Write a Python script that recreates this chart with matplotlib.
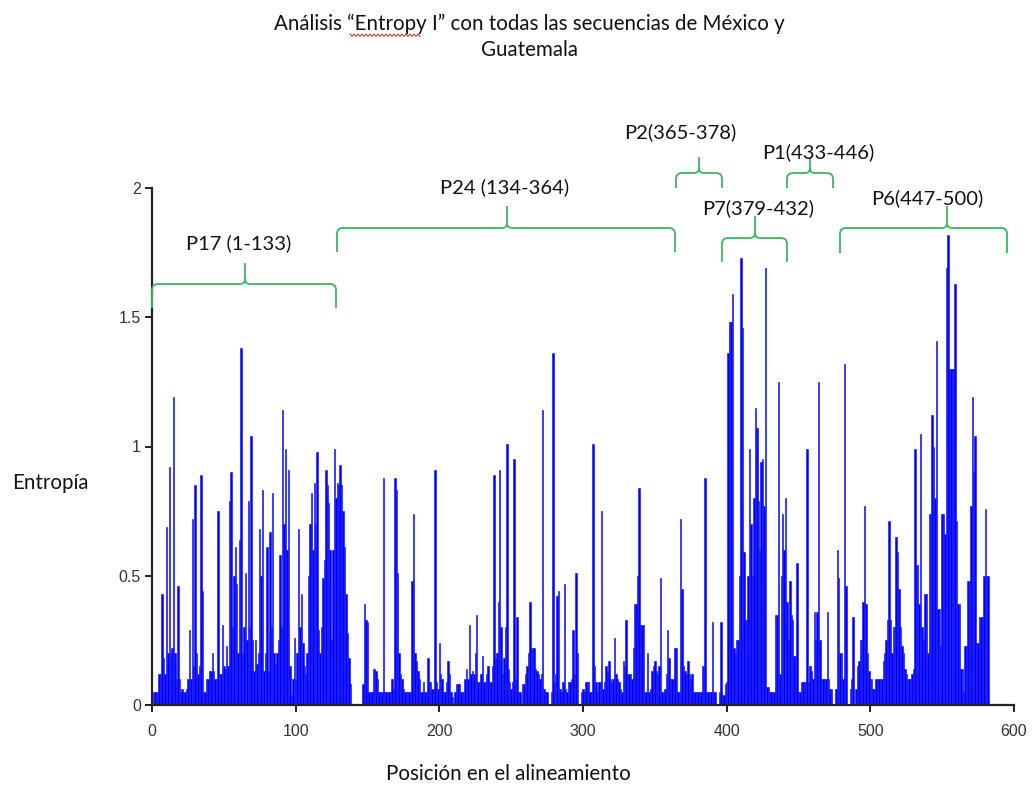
import numpy as np
import matplotlib
matplotlib.use("Agg")
import matplotlib.pyplot as plt
from matplotlib.path import Path
from matplotlib.patches import PathPatch

# ---------------- data ----------------
entropy = [
    0.05, 0.05, 0.05, 0.05, 0.12, 0.12, 0.43, 0.18, 0.12, 0.69,
    0.20, 0.92, 0.20, 0.22, 1.19, 0.20, 0.10, 0.46, 0.10, 0.05,
    0.06, 0.05, 0.05, 0.06, 0.10, 0.29, 0.10, 0.72, 0.15, 0.85,
    0.20, 0.12, 0.15, 0.89, 0.44, 0.05, 0.05, 0.10, 0.10, 0.13,
    0.13, 0.20, 0.13, 0.10, 0.10, 0.75, 0.12, 0.12, 0.31, 0.15,
    0.14, 0.23, 0.15, 0.79, 0.90, 0.30, 0.50, 0.61, 0.47, 0.20,
    0.64, 1.38, 0.20, 0.30, 0.51, 0.25, 0.79, 0.30, 1.04, 0.25,
    0.13, 0.25, 0.16, 0.20, 0.68, 0.50, 0.83, 0.13, 0.20, 0.61,
    0.13, 0.67, 0.30, 0.82, 0.20, 0.16, 0.20, 0.25, 0.58, 0.30,
    1.14, 0.70, 0.99, 0.60, 0.91, 0.15, 0.04, 0.10, 0.26, 0.10,
    0.20, 0.68, 0.30, 0.43, 0.24, 0.15, 0.12, 0.20, 0.50, 0.70,
    0.82, 0.60, 0.86, 0.70, 0.98, 0.29, 0.20, 0.30, 0.49, 0.56,
    0.91, 0.85, 0.78, 0.60, 0.25, 0.60, 0.99, 0.80, 0.86, 0.85,
    0.93, 0.85, 0.75, 0.61, 0.43, 0.28, 0.18, 0.08, 0.00, 0.00,
    0.00, 0.00, 0.00, 0.00, 0.00, 0.00, 0.08, 0.39, 0.33, 0.32,
    0.05, 0.05, 0.05, 0.14, 0.14, 0.13, 0.10, 0.05, 0.05, 0.05,
    0.88, 0.05, 0.05, 0.05, 0.05, 0.05, 0.10, 0.06, 0.88, 0.83,
    0.51, 0.20, 0.12, 0.10, 0.06, 0.05, 0.05, 0.05, 0.05, 0.05,
    0.48, 0.74, 0.20, 0.17, 0.13, 0.10, 0.05, 0.05, 0.09, 0.05,
    0.05, 0.18, 0.09, 0.09, 0.06, 0.06, 0.91, 0.09, 0.06, 0.24,
    0.12, 0.10, 0.05, 0.05, 0.09, 0.17, 0.12, 0.05, 0.03, 0.00,
    0.05, 0.08, 0.08, 0.08, 0.05, 0.05, 0.05, 0.10, 0.14, 0.10,
    0.31, 0.12, 0.13, 0.12, 0.20, 0.35, 0.09, 0.09, 0.12, 0.19,
    0.09, 0.09, 0.12, 0.15, 0.09, 0.09, 0.15, 0.89, 0.18, 0.20,
    0.40, 0.91, 0.30, 0.12, 0.18, 0.30, 1.01, 0.14, 0.09, 0.06,
    0.09, 0.95, 0.10, 0.34, 0.05, 0.05, 0.00, 0.08, 0.08, 0.12,
    0.15, 0.20, 0.40, 0.22, 0.22, 0.22, 0.14, 0.13, 0.12, 0.10,
    0.12, 1.14, 0.06, 0.05, 0.05, 0.00, 0.00, 0.05, 1.36, 0.09,
    0.12, 0.42, 0.44, 0.06, 0.05, 0.09, 0.47, 0.06, 0.05, 0.09,
    0.09, 0.10, 0.29, 0.12, 0.51, 0.20, 0.00, 0.00, 0.05, 0.06,
    0.05, 0.09, 0.09, 0.09, 0.05, 0.05, 1.01, 0.15, 0.09, 0.05,
    0.09, 0.09, 0.75, 0.06, 0.09, 0.15, 0.13, 0.17, 0.10, 0.09,
    0.10, 0.26, 0.12, 0.10, 0.09, 0.06, 0.05, 0.17, 0.15, 0.33,
    0.12, 0.12, 0.12, 0.10, 0.22, 0.39, 0.39, 0.50, 0.84, 0.31,
    0.31, 0.31, 0.05, 0.05, 0.20, 0.05, 0.06, 0.13, 0.15, 0.17,
    0.13, 0.12, 0.15, 0.49, 0.05, 0.05, 0.06, 0.12, 0.29, 0.18,
    0.10, 0.10, 0.10, 0.22, 0.22, 0.05, 0.05, 0.72, 0.45, 0.15,
    0.13, 0.12, 0.17, 0.12, 0.10, 0.12, 0.05, 0.05, 0.05, 0.05,
    0.05, 0.05, 0.15, 0.15, 0.88, 0.05, 0.05, 0.05, 0.05, 0.32,
    0.05, 0.05, 0.00, 0.00, 0.05, 0.32, 0.04, 0.04, 0.08, 0.09,
    1.36, 1.48, 1.48, 1.59, 0.22, 0.20, 0.25, 0.25, 0.50, 1.73,
    1.46, 0.59, 0.33, 0.33, 0.50, 0.99, 0.70, 0.50, 0.80, 1.15,
    1.07, 0.79, 0.60, 0.94, 0.95, 0.77, 1.69, 0.07, 0.07, 0.05,
    0.05, 0.05, 0.05, 0.35, 0.35, 1.25, 0.12, 0.50, 0.74, 0.60,
    0.80, 0.40, 0.25, 0.48, 0.35, 0.33, 0.19, 0.19, 0.55, 0.05,
    0.05, 0.09, 0.09, 0.09, 0.09, 0.99, 0.09, 0.15, 0.13, 0.10,
    0.36, 0.25, 0.36, 1.25, 0.25, 0.10, 0.10, 0.10, 0.10, 0.36,
    0.10, 0.06, 0.06, 0.00, 0.00, 0.06, 0.60, 0.49, 0.20, 0.20,
    0.10, 1.32, 0.46, 0.00, 0.00, 0.06, 0.10, 0.34, 0.00, 0.06,
    0.15, 0.17, 0.25, 0.25, 0.40, 0.77, 0.39, 0.20, 0.13, 0.10,
    0.10, 0.06, 0.06, 0.10, 0.10, 0.10, 0.10, 0.10, 0.17, 0.20,
    0.25, 0.33, 0.71, 0.33, 0.20, 0.30, 0.30, 0.65, 0.59, 0.45,
    0.30, 0.23, 0.20, 0.14, 0.12, 0.10, 0.10, 0.10, 0.12, 0.14,
    0.99, 0.54, 0.54, 0.39, 1.05, 0.30, 0.25, 0.43, 0.43, 0.20,
    0.74, 0.74, 1.12, 1.00, 0.80, 1.41, 0.37, 0.37, 0.23, 0.74,
    0.74, 0.66, 1.69, 1.82, 1.30, 1.30, 1.30, 1.30, 1.63, 0.71,
    0.39, 0.39, 0.14, 0.14, 0.05, 0.23, 0.23, 0.48, 0.48, 0.77,
    1.19, 0.90, 1.04, 0.24, 0.24, 0.34, 0.34, 0.34, 0.50, 0.76,
    0.50, 0.50,
]
positions = np.arange(1, len(entropy) + 1)

x_ticks = [0, 100, 200, 300, 400, 500, 600]
y_ticks = [0, 0.5, 1, 1.5, 2]
y_tick_labels = ["0", "0.5", "1", "1.5", "2"]

title_lines = ["Análisis \u201cEntropy I\u201d con todas las secuencias de México y", "Guatemala"]
y_label = "Entropía"
x_label = "Posición en el alineamiento"

region_labels = ["P17 (1-133)", "P24 (134-364)", "P2(365-378)", "P1(433-446)", "P7(379-432)", "P6(447-500)"]

# ---------------- figure ----------------
W, H = 1034, 788
fig = plt.figure(figsize=(W / 100, H / 100), dpi=100)
fig.patch.set_facecolor("white")

def fx(px):
    return px / W

def fy(py):
    return 1 - py / H

ax = fig.add_axes([fx(152), fy(705), (1014 - 152) / W, (705 - 188) / H])
ax.bar(positions, entropy, width=1.0, color="#0000ff", edgecolor="#1a1aff", linewidth=0.45)
ax.set_xlim(0, 600)
ax.set_ylim(0, 2)
for s in ["top", "right"]:
    ax.spines[s].set_visible(False)
for s in ["left", "bottom"]:
    ax.spines[s].set_linewidth(1.6)
    ax.spines[s].set_color("#222222")
ax.set_xticks(x_ticks)
ax.set_xticklabels([str(t) for t in x_ticks])
ax.set_yticks(y_ticks)
ax.set_yticklabels(y_tick_labels)
ax.tick_params(direction="out", length=5, width=1.4, color="#222222",
               labelsize=11.5, labelcolor="#333333")
ax.tick_params(axis="x", pad=9)
ax.tick_params(axis="y", pad=3)
for lab in ax.get_xticklabels() + ax.get_yticklabels():
    lab.set_fontfamily("Liberation Sans")

text_font = ["Lato", "DejaVu Sans"]
FS = 14.8

# title
fig.text(fx(529), fy(24), title_lines[0], ha="center", va="center", fontsize=FS,
         family=text_font, color="#111111")
fig.text(fx(529), fy(50), title_lines[1], ha="center", va="center", fontsize=FS,
         family=text_font, color="#111111")

# spell-check wavy underline under "Entropy"
wx = np.arange(350, 421, 2.0)
wy = np.where(np.arange(len(wx)) % 2 == 0, 34.0, 36.5)
fig.add_artist(plt.Line2D(fx(wx), fy(wy), color="#e02020", linewidth=0.7))

fig.text(fx(12), fy(483), y_label, ha="left", va="center", fontsize=FS,
         family=text_font, color="#111111")
fig.text(fx(508), fy(774), x_label, ha="center", va="center", fontsize=FS,
         family=text_font, color="#111111")

# braces (pixel geometry of the annotation shapes)
brace_color = "#3cb563"

def brace(x0, x1, xc, y_line, y_peak, y_end, r=6, r2=5):
    pts = [
        (x0, y_end), (x0, y_line + r), (x0, y_line), (x0 + r, y_line),
        (xc - r2, y_line), (xc, y_line), (xc, y_line - r2), (xc, y_peak),
        (xc, y_line - r2), (xc, y_line), (xc + r2, y_line),
        (x1 - r, y_line), (x1, y_line), (x1, y_line + r), (x1, y_end),
    ]
    codes = [Path.MOVETO, Path.LINETO, Path.CURVE3, Path.CURVE3,
             Path.LINETO, Path.CURVE3, Path.CURVE3, Path.LINETO,
             Path.MOVETO, Path.CURVE3, Path.CURVE3,
             Path.LINETO, Path.CURVE3, Path.CURVE3, Path.LINETO]
    verts = [(fx(a), fy(b)) for a, b in pts]
    patch = PathPatch(Path(verts, codes), fill=False, edgecolor=brace_color,
                      linewidth=1.3, transform=fig.transFigure)
    fig.add_artist(patch)

braces = [
    (152, 336, 245, 284, 263, 308),
    (337, 675, 507, 228, 206, 252),
    (676, 722, 699, 173, 157, 188),
    (787, 833, 810, 173, 157, 188),
    (722, 787, 755, 238, 216, 262),
    (840, 1007, 947, 228, 206, 253),
]
for b in braces:
    brace(*b)

label_pos = [(239, 243), (505, 187), (680, 132), (818, 152), (758, 208), (927, 198)]
for txt, (px, py) in zip(region_labels, label_pos):
    fig.text(fx(px), fy(py), txt, ha="center", va="center", fontsize=FS - 0.3,
             family=text_font, color="#111111")

fig.savefig("out.png", dpi=100, facecolor="white")
